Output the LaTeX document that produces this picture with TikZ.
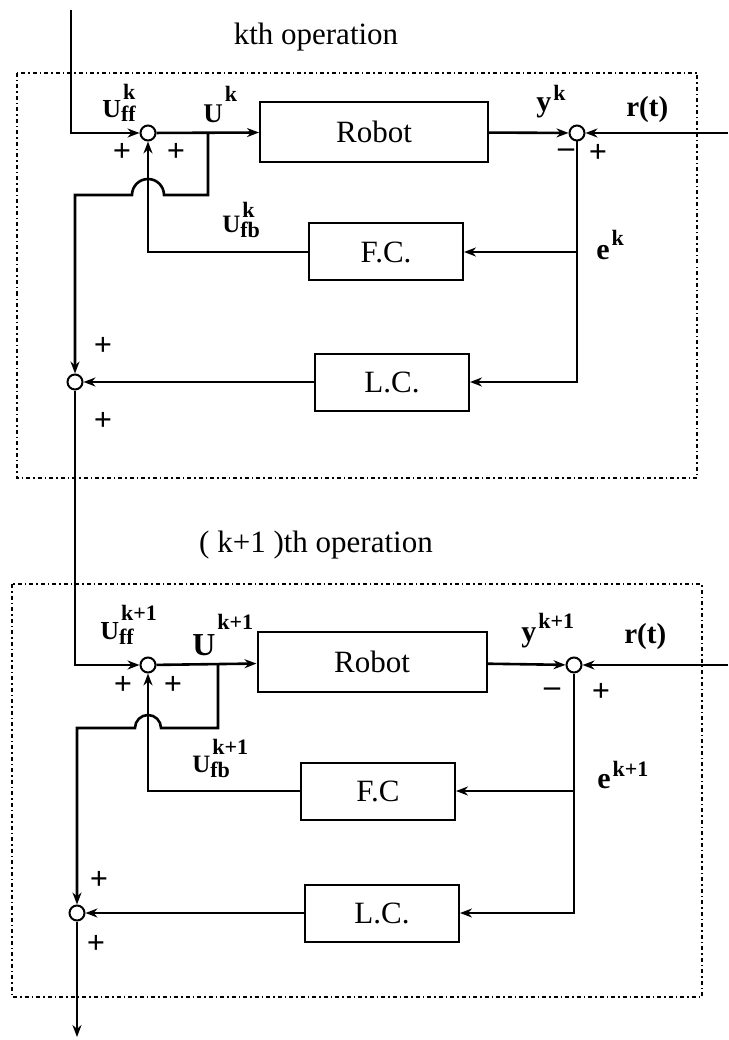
\documentclass[tikz,border=0pt]{standalone}
\usepackage{fontspec}
\setmainfont{Liberation Serif}
\usetikzlibrary{arrows.meta,positioning}

\newcommand{\sglabel}[6]{\fontsize{#1}{#1}\selectfont\bfseries #2\fontsize{22}{22}\selectfont
  \rlap{\hspace{2pt}\raisebox{#3}{#4}}\raisebox{-#5}{#6}}

\begin{document}
\begin{tikzpicture}[
  x=1pt, y=-1pt,
  line width=2.6pt,
  >={Stealth[length=12pt,width=9pt]},
  blk/.style={draw, line width=2pt, minimum width=154pt, minimum height=57pt, inner sep=0pt, font=\fontsize{31}{34}\selectfont},
  sumpt/.style={draw, circle, line width=2pt, minimum size=15pt, inner sep=0pt},
  frame/.style={line width=1.6pt, dash pattern=on 4pt off 3pt on 1.5pt off 3pt},
  lbl/.style={inner sep=0pt, anchor=base west},
  sgn/.style={inner sep=0pt, font=\fontsize{32}{32}\selectfont\bfseries},
  ttl/.style={inner sep=0pt, font=\fontsize{31}{34}\selectfont}
]
\useasboundingbox (0,0) rectangle (728,1040);

\draw[frame] (17,73) rectangle (697,478);
\node[ttl] (t1) at (316,37) {kth operation};
\coordinate (in1) at (71,10);
\node[sumpt] (s1) at (148,133) {};
\node[blk, minimum width=228pt, minimum height=60pt] (rob1) at (374,132) {Robot};
\node[sumpt] (s2) at (577,133) {};
\coordinate (r1) at (728,133);
\node[blk] (fc1) at (386,252) {F.C.};
\node[blk] (lc1) at (392,382) {L.C.};
\node[sumpt] (s3) at (75,382) {};
\coordinate (b1) at (208,133);
\coordinate (e1) at (577,252);

\draw[->] (in1) |- (s1);
\draw[->] (s1) -- (rob1);
\draw[->] (rob1) -- (s2);
\draw[->] (r1) -- (s2);
\draw (s2) -- (e1);
\draw[->] (e1) -- (fc1);
\draw[->] (e1) |- (lc1);
\draw[->] (fc1) -| (s1);
\draw[->] (b1) |- (164,195) arc[start angle=0, end angle=180, radius=16pt] -- (75,195) -- (s3);
\draw[->] (lc1) -- (s3);

\node[lbl] (uff1) at (101,118) {\sglabel{26}{U}{18pt}{k}{4pt}{ff}};
\node[lbl] (u1) at (202,123) {\sglabel{27}{U}{21pt}{k}{0pt}{}};
\node[lbl] (y1) at (535,112) {\sglabel{30}{y}{11pt}{k}{0pt}{}};
\node[lbl, font=\fontsize{29}{29}\selectfont\bfseries] (rt1) at (625,117) {r(t)};
\node[lbl] (ek1) at (595,260) {\sglabel{30}{e}{14pt}{k}{0pt}{}};
\node[lbl] (ufb1) at (221,233) {\sglabel{25}{U}{15pt}{k}{5pt}{fb}};
\node[sgn] (p1) at (122,152) {+};
\node[sgn] (p2) at (176,152) {+};
\node[sgn] (m1) at (566,153) {–};
\node[sgn] (p3) at (598,153) {+};
\node[sgn] (p4) at (103,346) {+};
\node[sgn] (p5) at (103,421) {+};

\draw[frame] (12,584) rectangle (702,997);
\node[ttl] (t2) at (316,545) {( k+1 )th operation};
\node[sumpt] (s4) at (148,665) {};
\node[blk, minimum width=229pt, minimum height=60pt] (rob2) at (372,662) {Robot};
\node[sumpt] (s5) at (574,665) {};
\coordinate (r2) at (728,665);
\node[blk] (fc2) at (378,791) {F.C};
\node[blk] (lc2) at (382,913) {L.C.};
\node[sumpt] (s6) at (77,913) {};
\coordinate (b2) at (218,665);
\coordinate (e2) at (574,791);
\coordinate (out) at (77,1037);

\draw[->] (s3) |- (s4);
\draw[->] (s4) -- (rob2);
\draw[->] (rob2) -- (s5);
\draw[->] (r2) -- (s5);
\draw (s5) -- (e2);
\draw[->] (e2) -- (fc2);
\draw[->] (e2) |- (lc2);
\draw[->] (fc2) -| (s4);
\draw[->] (b2) |- (161,728) arc[start angle=0, end angle=180, radius=13pt] -- (77,728) -- (s6);
\draw[->] (lc2) -- (s6);
\draw[->] (s6) -- (out);

\node[lbl] (uff2) at (99,639) {\sglabel{26}{U}{19pt}{k+1}{5pt}{ff}};
\node[lbl] (u2) at (191,655) {\sglabel{32}{U}{26pt}{k+1}{0pt}{}};
\node[lbl] (y2) at (520,641) {\sglabel{30}{y}{13pt}{k+1}{0pt}{}};
\node[lbl, font=\fontsize{29}{29}\selectfont\bfseries] (rt2) at (623,643) {r(t)};
\node[lbl] (ek2) at (596,788) {\sglabel{30}{e}{12pt}{k+1}{0pt}{}};
\node[lbl] (ufb2) at (191,772) {\sglabel{25}{U}{18pt}{k+1}{5pt}{fb}};
\node[sgn] (p6) at (123,685) {+};
\node[sgn] (p7) at (173,685) {+};
\node[sgn] (m2) at (552,692) {–};
\node[sgn] (p8) at (601,692) {+};
\node[sgn] (p9) at (99,880) {+};
\node[sgn] (p10) at (96,944) {+};
\end{tikzpicture}
\end{document}
